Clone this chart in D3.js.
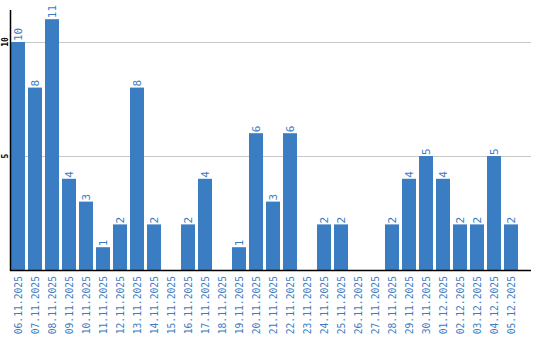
<!DOCTYPE html>
<html>
<head>
<meta charset="utf-8">
<script src="https://cdn.jsdelivr.net/npm/d3@7"></script>
<style>
  html, body { margin: 0; padding: 0; background: #fff; }
  svg text { font-family: "DejaVu Sans Mono", monospace; }
</style>
</head>
<body>
<div id="chart"></div>
<script>
const dates = [
  '06.11.2025', '07.11.2025', '08.11.2025', '09.11.2025', '10.11.2025',
  '11.11.2025', '12.11.2025', '13.11.2025', '14.11.2025', '15.11.2025',
  '16.11.2025', '17.11.2025', '18.11.2025', '19.11.2025', '20.11.2025',
  '21.11.2025', '22.11.2025', '23.11.2025', '24.11.2025', '25.11.2025',
  '26.11.2025', '27.11.2025', '28.11.2025', '29.11.2025', '30.11.2025',
  '01.12.2025', '02.12.2025', '03.12.2025', '04.12.2025', '05.12.2025'
];
const counts = [10, 8, 11, 4, 3, 1, 2, 8, 2, 0, 2, 4, 0, 1, 6, 3, 6, 0, 2, 2, 0, 0, 2, 4, 5, 4, 2, 2, 5, 2];
const yTicks = [5, 10];

const width = 540, height = 340;
const left = 10, right = 531, bottom = 270;
const blue = '#3b7dc3';

const svg = d3.select('#chart').append('svg')
  .attr('width', width)
  .attr('height', height);

const x = d3.scaleBand()
  .domain(dates)
  .range([11, 518])
  .paddingInner(3 / 17)
  .paddingOuter(0);

const y = d3.scaleLinear()
  .domain([0, 10])
  .range([bottom, 42]);

const rows = dates.map((d, i) => ({ date: d, value: counts[i] })).filter(d => d.value > 0);

// gridlines behind bars
svg.append('g')
  .selectAll('line')
  .data(yTicks)
  .enter()
  .append('line')
  .attr('x1', left)
  .attr('x2', right)
  .attr('y1', d => Math.round(y(d)) + 0.5)
  .attr('y2', d => Math.round(y(d)) + 0.5)
  .attr('stroke', '#c8c8c8')
  .attr('stroke-width', 1);

// bars
svg.append('g')
  .selectAll('rect')
  .data(rows)
  .enter()
  .append('rect')
  .attr('x', d => x(d.date))
  .attr('y', d => y(d.value))
  .attr('width', x.bandwidth())
  .attr('height', d => bottom - y(d.value))
  .attr('fill', blue);

// value labels
svg.append('g')
  .selectAll('text')
  .data(rows)
  .enter()
  .append('text')
  .attr('transform', d => `translate(${x(d.date) + x.bandwidth() / 2 + 4},${y(d.value) - 1}) rotate(-90)`)
  .attr('text-anchor', 'start')
  .attr('font-size', '11px')
  .attr('fill', blue)
  .text(d => d.value);

// x axis labels
svg.append('g')
  .selectAll('text')
  .data(dates)
  .enter()
  .append('text')
  .attr('transform', d => `translate(${x(d) + x.bandwidth() / 2 + 3.5},${bottom + 6}) rotate(-90)`)
  .attr('text-anchor', 'end')
  .attr('font-size', '9.7px')
  .attr('fill', blue)
  .text(d => d);

// y tick labels
svg.append('g')
  .selectAll('text')
  .data(yTicks)
  .enter()
  .append('text')
  .attr('transform', d => `translate(8,${y(d)}) rotate(-90)`)
  .attr('text-anchor', 'middle')
  .attr('font-size', '8px')
  .attr('font-weight', 'bold')
  .attr('fill', '#000')
  .text(d => d);

// axis lines
svg.append('line')
  .attr('x1', left + 0.5).attr('x2', left + 0.5)
  .attr('y1', 10).attr('y2', bottom + 1)
  .attr('stroke', '#000').attr('stroke-width', 1.5);

svg.append('line')
  .attr('x1', left).attr('x2', right)
  .attr('y1', bottom + 0.5).attr('y2', bottom + 0.5)
  .attr('stroke', '#000').attr('stroke-width', 1.5);
</script>
</body>
</html>
